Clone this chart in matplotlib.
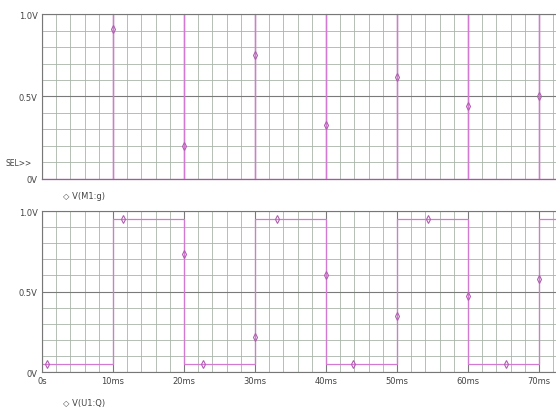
import numpy as np
import matplotlib.pyplot as plt
from matplotlib.ticker import MultipleLocator

# Top trace: narrow pulses at each edge time (ms)
pulse_times = [10, 20, 30, 40, 50, 60, 70]
pulse_width = 0.05
top_marker_t = [10, 20, 30, 40, 50, 60, 70]
top_marker_v = [0.91, 0.20, 0.75, 0.33, 0.62, 0.44, 0.50]

# Bottom trace: square wave
sq_edges = [0, 10, 20, 30, 40, 50, 60, 70, 80]
sq_levels = [0.05, 0.95, 0.05, 0.95, 0.05, 0.95, 0.05, 0.95]
bot_marker_t = [0.7, 11.4, 20, 22.7, 30, 33.1, 40, 43.8, 50, 54.4, 60, 65.4, 70]
bot_marker_v = [0.05, 0.95, 0.73, 0.05, 0.22, 0.95, 0.60, 0.05, 0.35, 0.95, 0.47, 0.05, 0.58]

x_ticks = [0, 10, 20, 30, 40, 50, 60, 70]
x_ticklabels = ["0s", "10ms", "20ms", "30ms", "40ms", "50ms", "60ms", "70ms"]
y_ticks = [0, 0.5, 1.0]
y_ticklabels = ["0V", "0.5V", "1.0V"]

trace_col = "#d27ad2"
xmax = 72.4

fig = plt.figure(figsize=(5.56, 4.10), dpi=100)
ax1 = fig.add_axes([0.0755, 0.561, 0.9245, 0.4024])
ax2 = fig.add_axes([0.0755, 0.0902, 0.9245, 0.3927])

def style(ax):
    ax.set_xlim(0, xmax)
    ax.set_ylim(0, 1.0)
    ax.xaxis.set_minor_locator(MultipleLocator(2))
    ax.yaxis.set_minor_locator(MultipleLocator(0.1))
    ax.set_xticks(x_ticks)
    ax.set_yticks(y_ticks)
    ax.set_yticklabels(y_ticklabels)
    ax.grid(which="major", color="#7a7a7a", linewidth=0.8)
    ax.grid(which="minor", color="#aab4aa", linewidth=0.6)
    ax.set_axisbelow(True)
    ax.tick_params(which="both", length=0, labelsize=6, colors="#444444", pad=3)
    ax.spines["right"].set_visible(False)
    for s in ["left", "bottom", "top"]:
        ax.spines[s].set_color("#777777")
        ax.spines[s].set_linewidth(0.8)

style(ax1)
style(ax2)

# top trace
tx, ty = [0], [0]
for t in pulse_times:
    tx += [t, t, t + pulse_width, t + pulse_width]
    ty += [0, 1.0, 1.0, 0]
tx.append(xmax)
ty.append(0)
ax1.plot(tx, ty, color=trace_col, linewidth=0.9, clip_on=False)
ax1.axhline(1.0, color=trace_col, linewidth=1.2)
ax1.plot(top_marker_t, top_marker_v, linestyle="none", marker="d", markersize=4,
         markerfacecolor="none", markeredgecolor="#b060b0", markeredgewidth=0.8)
ax1.set_xticklabels([])
ax1.text(-0.02, 0.10, "SEL>>", transform=ax1.transAxes, ha="right", va="center",
         fontsize=5.5, color="#444444")
ax1.text(0.04, -0.10, "\u25c7 V(M1:g)", transform=ax1.transAxes, ha="left", va="center",
         fontsize=6, color="#444444")

# bottom trace
bx = np.repeat(sq_edges, 2)[1:-1]
by = np.repeat(sq_levels, 2)
ax2.plot(bx, by, color=trace_col, linewidth=0.9)
ax2.plot(bot_marker_t, bot_marker_v, linestyle="none", marker="d", markersize=4,
         markerfacecolor="none", markeredgecolor="#b060b0", markeredgewidth=0.8)
ax2.set_xticklabels(x_ticklabels)
ax2.text(0.04, -0.19, "\u25c7 V(U1:Q)", transform=ax2.transAxes, ha="left", va="center",
         fontsize=6, color="#444444")

fig.savefig("out.png", dpi=100)
